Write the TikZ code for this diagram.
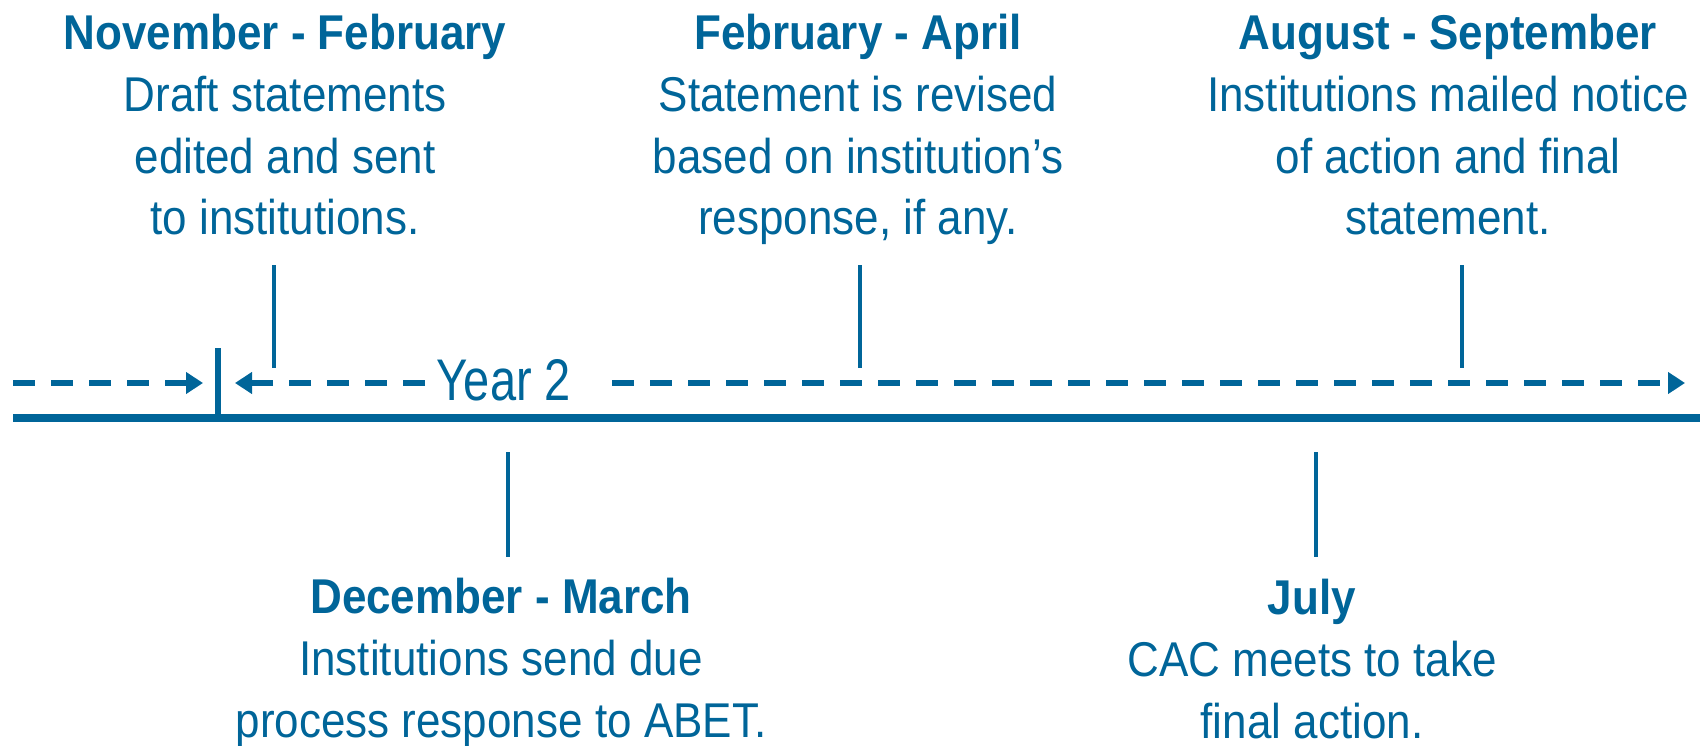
\documentclass[tikz,border=0pt]{standalone}
\usepackage{fontspec}
\setmainfont{Liberation Sans}
\usetikzlibrary{positioning}
\usetikzlibrary{arrows.meta}
\definecolor{abet}{RGB}{0,101,153}
\tikzset{lbl/.style={text=abet, align=center, inner sep=0pt, anchor=base, yscale=1.11, font=\fontsize{44}{55.6}\selectfont}}
\tikzset{bar/.style={draw=abet, line width=4.5pt}}
\tikzset{dsh/.style={draw=abet, line width=6.5pt, dash pattern=on 22pt off 16pt, -{Triangle[length=17pt,width=21pt]}}}
\tikzset{axisline/.style={draw=abet, line width=7.5pt}}

\begin{document}
\begin{tikzpicture}[x=1pt,y=-1pt]
\useasboundingbox (0,0) rectangle (1705,746);

% time axis
\coordinate (lineL) at (13,418);
\coordinate (lineR) at (1700,418);
\draw[axisline] (lineL) -- (lineR);

% start of year 2
\coordinate (yr) at (218,418);
\coordinate (yrtop) at (218,348);
\draw[draw=abet, line width=6pt] (yr) -- (yrtop);

\node[lbl, yscale=1.25/1.11, font=\fontsize{47}{56}\selectfont] (year) at (504,400) {Year 2};

\coordinate (d1s) at (13,383);
\coordinate (d1e) at (203,383);
\coordinate (d2s) at (425,383);
\coordinate (d2e) at (235,383);
\coordinate (d3s) at (612,383);
\coordinate (d3e) at (1685,383);
\draw[dsh] (d1s) -- (d1e);
\draw[dsh] (d2s) -- (d2e);
\draw[dsh] (d3s) -- (d3e);

% above the axis (base = last line)
\node[lbl] (novfeb) at (285,235) {\textbf{November - February}\\Draft statements\\edited and sent\\to institutions.};
\node[lbl] (febapr) at (858,235) {\textbf{February - April}\\Statement is revised\\based on institution’s\\response, if any.};
\node[lbl] (augsep) at (1448,235) {\textbf{August - September}\\Institutions mailed notice\\of action and final\\statement.};

\coordinate (a1) at (274,265);
\coordinate (a1b) at (274,368);
\coordinate (a2) at (860,265);
\coordinate (a2b) at (860,368);
\coordinate (a3) at (1462,265);
\coordinate (a3b) at (1462,368);
\draw[bar] (a1) -- (a1b);
\draw[bar] (a2) -- (a2b);
\draw[bar] (a3) -- (a3b);

% below the axis
\node[lbl] (decmar) at (501,737) {\textbf{December - March}\\Institutions send due\\process response to ABET.};
\node[lbl] (july) at (1312,738) {\textbf{July}\\CAC meets to take\\final action.};

\coordinate (b1) at (508,452);
\coordinate (b1b) at (508,557);
\coordinate (b2) at (1316,452);
\coordinate (b2b) at (1316,557);
\draw[bar] (b1) -- (b1b);
\draw[bar] (b2) -- (b2b);

\end{tikzpicture}
\end{document}
